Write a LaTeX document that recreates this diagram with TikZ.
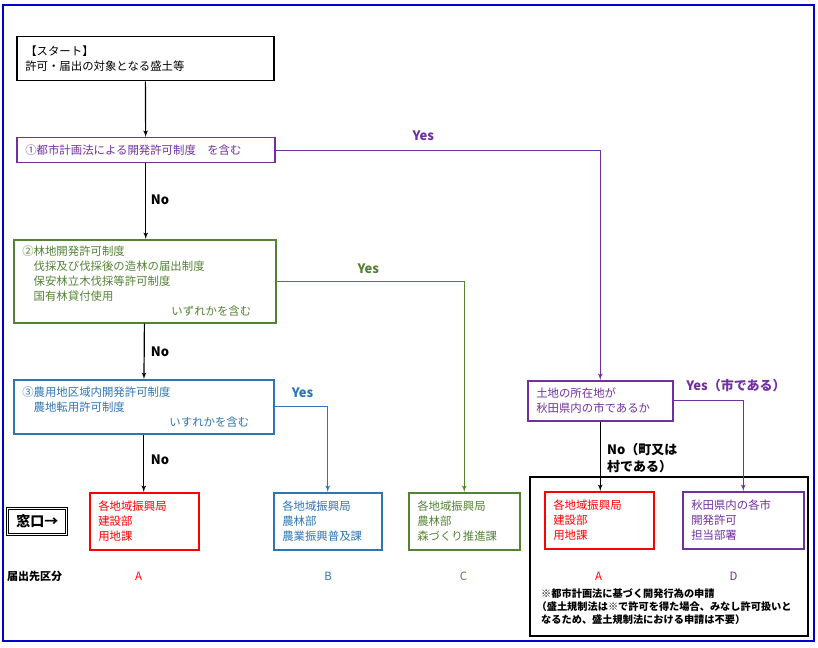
\documentclass[tikz,border=0pt]{standalone}
\usepackage{fontspec}
\setmainfont{Noto Sans CJK JP}
\usetikzlibrary{shapes,arrows,calc}
\definecolor{cpurple}{RGB}{112,48,160}
\definecolor{cgreen}{RGB}{84,130,53}
\definecolor{cblue}{RGB}{46,117,182}
\definecolor{cred}{RGB}{255,0,0}
\definecolor{cframe}{RGB}{0,0,204}
\tikzstyle{line} = [draw, -latex', line width=1.2pt]
\tikzstyle{block} = [draw, rectangle, anchor=north west, align=left, inner xsep=8.5pt, inner ysep=0pt, line width=1.5pt, font=\fontsize{11.4}{15}\selectfont]
\tikzstyle{answer} = [font=\bfseries\fontsize{13}{17}\selectfont]
\tikzstyle{kubun} = [font=\fontsize{11.4}{13}\selectfont]

\begin{document}
\begin{tikzpicture}[x=1pt, y=-1pt]
        \useasboundingbox (0,0) rectangle (818,647);
        \draw[cframe, line width=2.2pt] (3,5) rectangle (814,641);
        % questions
        \node[block, minimum width=257pt, text width=240pt, minimum height=44pt] (start) at (16,36) {【スタート】\\許可・届出の対象となる盛土等};
        \node[block, draw=cpurple, text=cpurple, minimum width=258pt, text width=241pt, minimum height=25pt] (toshi) at (16,137) {①都市計画法による開発許可制度　を含む};
        \node[block, draw=cgreen, text=cgreen, minimum width=262pt, text width=245pt, minimum height=83pt] (rinchi) at (13,239) {②林地開発許可制度\\
            \hspace*{1em}伐採及び伐採後の造林の届出制度\\
            \hspace*{1em}保安林立木伐採等許可制度\\
            \hspace*{1em}国有林貸付使用\\
            \hfill いずれかを含む\hspace*{16pt}};
        \node[block, draw=cblue, text=cblue, minimum width=260pt, text width=243pt, minimum height=54pt] (nochi) at (13,379) {③農用地区域内開発許可制度\\
            \hspace*{1em}農地転用許可制度\\
            \hfill いすれかを含む\hspace*{16pt}};
        \node[block, draw=cpurple, text=cpurple, minimum width=145pt, text width=128pt, minimum height=40pt] (shozai) at (527,380) {土地の所在地が\\秋田県内の市であるか};
        % windows
        \node[block, draw=cred, text=cred, minimum width=109pt, text width=92pt, minimum height=57pt] (kyokuA) at (89,492) {各地域振興局\\建設部\\用地課};
        \node[block, draw=cblue, text=cblue, minimum width=108pt, text width=91pt, minimum height=57pt] (kyokuB) at (273,492) {各地域振興局\\農林部\\農業振興普及課};
        \node[block, draw=cgreen, text=cgreen, minimum width=111pt, text width=94pt, minimum height=57pt] (kyokuC) at (408,492) {各地域振興局\\農林部\\森づくり推進課};
        \node[block, draw=cred, text=cred, minimum width=109pt, text width=92pt, minimum height=57pt] (townA) at (544,491) {各地域振興局\\建設部\\用地課};
        \node[block, draw=cpurple, text=cpurple, minimum width=121pt, text width=104pt, minimum height=57pt] (cityD) at (682,491) {秋田県内の各市\\開発許可\\担当部署};
        \draw[line width=2.8pt] (530,477) rectangle (808,636);
        \node[draw, double, double distance=1.3pt, line width=0.9pt, minimum width=59pt, minimum height=26pt, font=\bfseries\fontsize{14}{16}\selectfont] (madoguchi) at (37.3,521.3) {窓口→};
        % connectors
        \path[line] (start) -- (toshi);
        \path[line] (toshi.south) -- (toshi.south |- rinchi.north);
        \path[line] (rinchi) -- (nochi);
        \path[line] (nochi.south) -- (nochi.south |- kyokuA.north);
        \path[line, draw=cpurple] (toshi.east) -| (shozai.north);
        \path[line, draw=cgreen] (rinchi.east) -| (kyokuC.north);
        \path[line, draw=cblue] (nochi.east) -| (kyokuB.north);
        \path[line, draw=cpurple] (shozai.east) -| (cityD.north);
        \path[line] (shozai.south) -- (shozai.south |- townA.north);
        % answers
        \node[answer] (no1) at (160,200) {No};
        \node[answer] (no2) at (160,352) {No};
        \node[answer] (no3) at (160,460) {No};
        \node[answer, text=cpurple] (yes1) at (423.3,135.3) {Yes};
        \node[answer, text=cgreen] (yes2) at (368.3,268.3) {Yes};
        \node[answer, text=cblue] (yes3) at (302.5,393) {Yes};
        \node[answer, text=cpurple] (yes4) at (736,385.7) {Yes（市である）};
        \node[answer, anchor=west, align=left, inner sep=0pt] (no4) at (607,458) {No（町又は\\村である）};
        % kubun
        \node[kubun, font=\bfseries\fontsize{11}{13}\selectfont] (todokede) at (34.5,576.7) {届出先区分};
        \node[kubun, text=cred] (kA) at (138.5,576.5) {A};
        \node[kubun, text=cblue] (kB) at (328,576.5) {B};
        \node[kubun, text=cgreen] (kC) at (463.5,576.5) {C};
        \node[kubun, text=cred] (kA2) at (598.5,576.5) {A};
        \node[kubun, text=cpurple] (kD) at (733.5,576.5) {D};
        \node[anchor=north west, align=left, inner sep=0pt, font=\bfseries\fontsize{10.2}{13.2}\selectfont] (chui) at (541,588) {※都市計画法に基づく開発行為の申請\\\hspace*{-0.45em}（盛土規制法は※で許可を得た場合、みなし許可扱いと\\なるため、盛土規制法における申請は不要）};
    \end{tikzpicture}
\end{document}
